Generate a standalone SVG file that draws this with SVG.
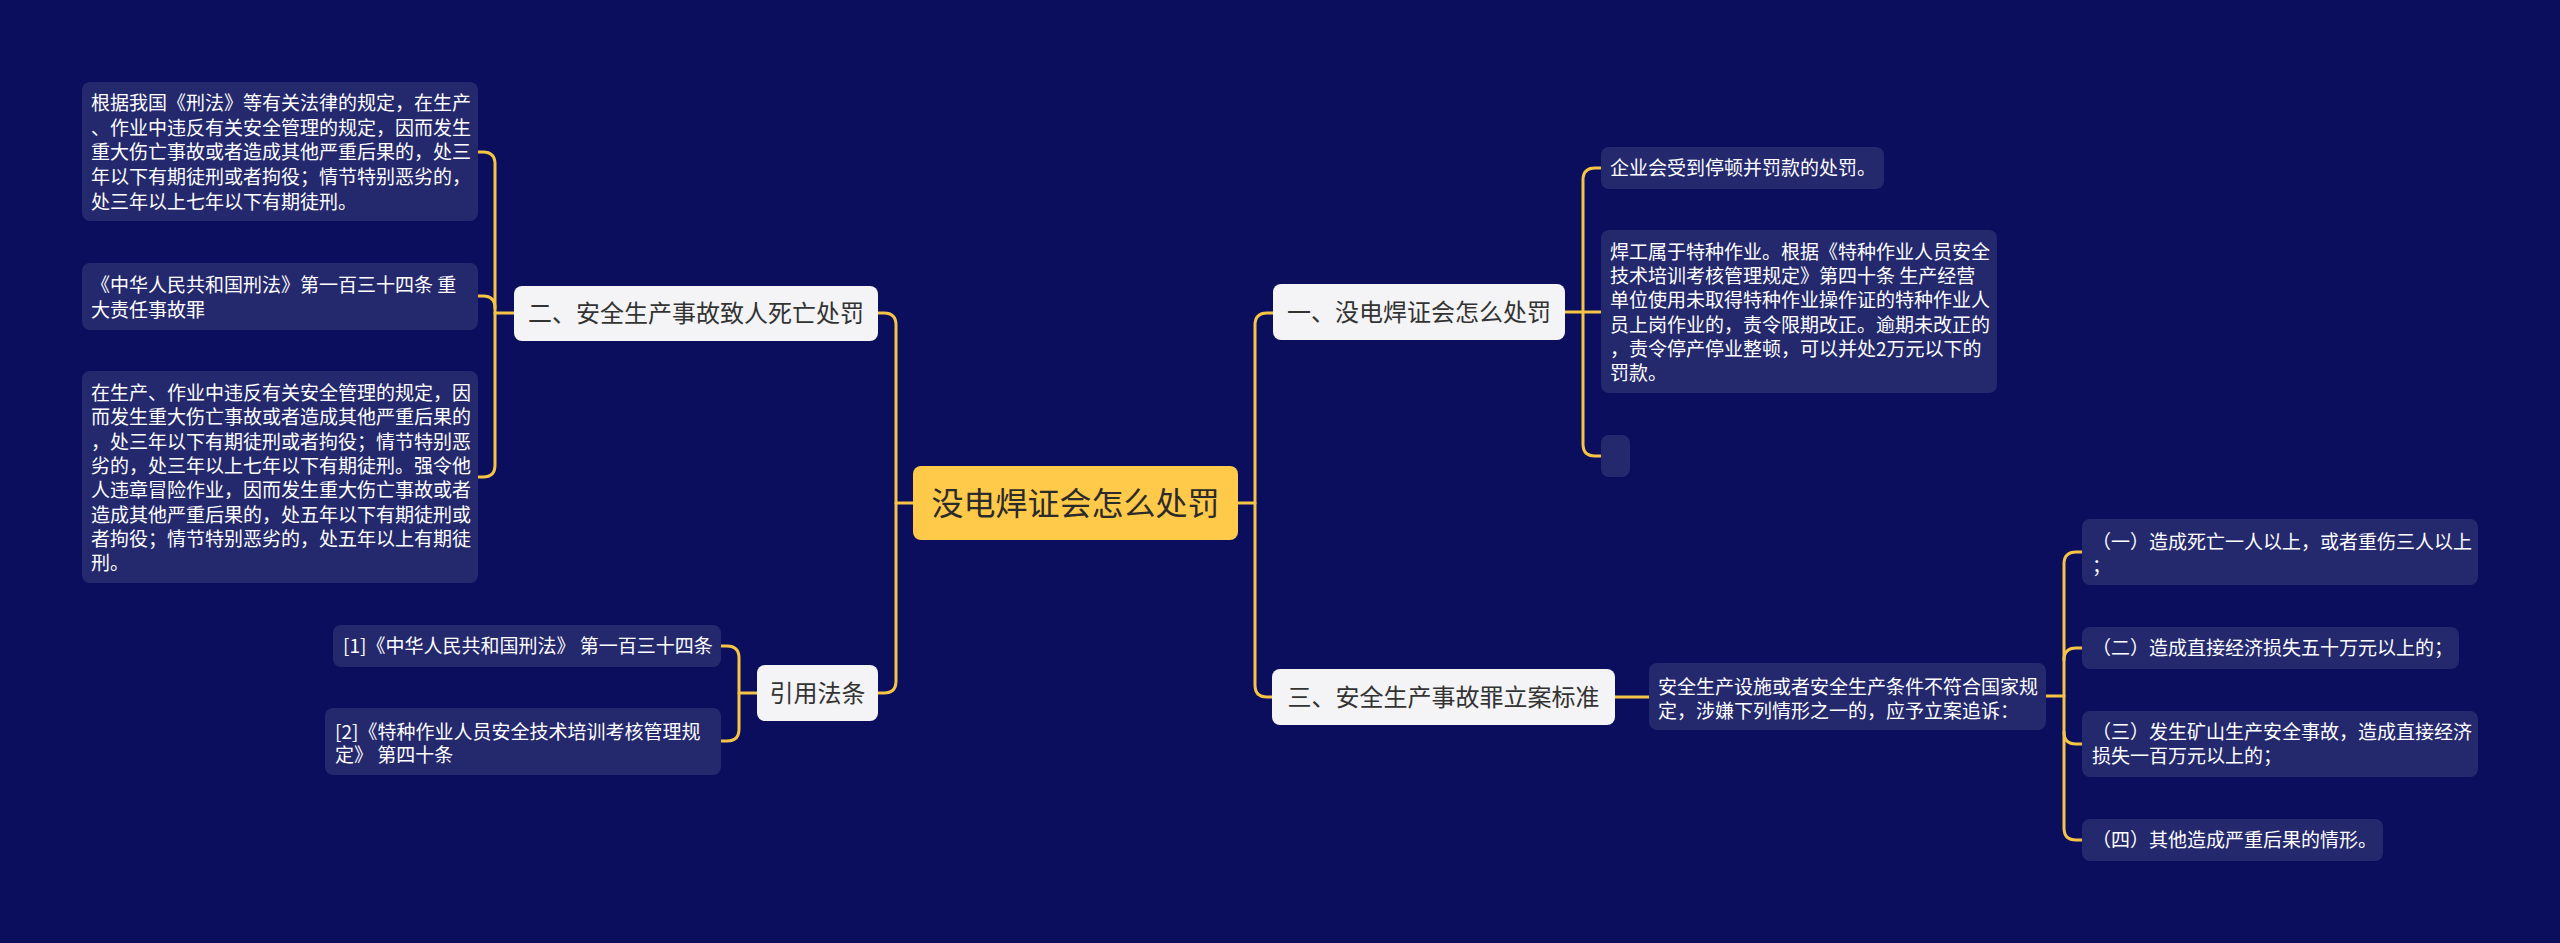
<svg xmlns="http://www.w3.org/2000/svg" width="2560" height="943" viewBox="0 0 2560 943">
<style>
.bg{fill:#0a0e5c}
.leaf{fill:#24296e}
.title{fill:#f4f4f6}
.root{fill:#ffc94a}
.lt{font-family:"Noto Sans CJK SC","Noto Sans",sans-serif;font-size:19px;fill:#ffffff}
.tt{font-family:"Noto Sans CJK SC","Noto Sans",sans-serif;font-size:24px;fill:#333333;text-anchor:middle}
.rt{font-family:"Noto Sans CJK SC","Noto Sans",sans-serif;font-size:32px;fill:#2b2b2b;text-anchor:middle}
.ln{fill:none;stroke:#f5c445;stroke-width:3;stroke-linecap:round}
</style>
<rect class="bg" x="0" y="0" width="2560" height="943"/>
<g id="connectors">
<path class="ln" d="M896,503 H913"/>
<path class="ln" d="M878,313 H884 Q896,313 896,325 V681 Q896,693 884,693 H878"/>
<path class="ln" d="M1238,503 H1255"/>
<path class="ln" d="M1273,313 H1267 Q1255,313 1255,325 V685 Q1255,697 1267,697 H1272"/>
<path class="ln" d="M495,313 H514"/>
<path class="ln" d="M478,152 H483 Q495,152 495,164 V465 Q495,477 483,477 H478"/>
<path class="ln" d="M478,296 H483 Q495,296 495,308"/>
<path class="ln" d="M739,693 H757"/>
<path class="ln" d="M721,646 H727 Q739,646 739,658 V729 Q739,741 727,741 H721"/>
<path class="ln" d="M1565,312 H1601"/>
<path class="ln" d="M1601,168 H1595 Q1583,168 1583,180 V444 Q1583,456 1595,456 H1601"/>
<path class="ln" d="M1615,697 H1649"/>
<path class="ln" d="M2046,696 H2064"/>
<path class="ln" d="M2082,552 H2076 Q2064,552 2064,564 V828 Q2064,840 2076,840 H2082"/>
<path class="ln" d="M2082,648 H2076 Q2064,648 2064,660"/>
<path class="ln" d="M2082,744 H2076 Q2064,744 2064,732"/>
</g>
<g id="root">
<rect class="root" x="913" y="466" width="325" height="74" rx="8"/>
<text class="rt" x="1075.5" y="515">没电焊证会怎么处罚</text>
</g>
<g id="n2">
<rect class="title" x="514" y="286" width="364" height="55" rx="8"/>
<text class="tt" x="696" y="322">二、安全生产事故致人死亡处罚</text>
</g>
<g id="ref">
<rect class="title" x="757" y="665" width="121" height="56" rx="8"/>
<text class="tt" x="817.5" y="702">引用法条</text>
</g>
<g id="n1">
<rect class="title" x="1273" y="284" width="292" height="56" rx="8"/>
<text class="tt" x="1419" y="321">一、没电焊证会怎么处罚</text>
</g>
<g id="n3">
<rect class="title" x="1272" y="669" width="343" height="56" rx="8"/>
<text class="tt" x="1443.5" y="706">三、安全生产事故罪立案标准</text>
</g>
<g id="a">
<rect class="leaf" x="82" y="82" width="396" height="139" rx="8"/>
<text class="lt"><tspan x="91" y="110">根据我国《刑法》等有关法律的规定，在生产</tspan><tspan x="91" y="134.7">、作业中违反有关安全管理的规定，因而发生</tspan><tspan x="91" y="159.4">重大伤亡事故或者造成其他严重后果的，处三</tspan><tspan x="91" y="184.1">年以下有期徒刑或者拘役；情节特别恶劣的，</tspan><tspan x="91" y="208.8">处三年以上七年以下有期徒刑。</tspan></text>
</g>
<g id="b">
<rect class="leaf" x="82" y="263" width="396" height="67" rx="8"/>
<text class="lt"><tspan x="91" y="292">《中华人民共和国刑法》第一百三十四条 重</tspan><tspan x="91" y="317">大责任事故罪</tspan></text>
</g>
<g id="c">
<rect class="leaf" x="82" y="371" width="396" height="212" rx="8"/>
<text class="lt"><tspan x="91" y="400">在生产、作业中违反有关安全管理的规定，因</tspan><tspan x="91" y="424.3">而发生重大伤亡事故或者造成其他严重后果的</tspan><tspan x="91" y="448.6">，处三年以下有期徒刑或者拘役；情节特别恶</tspan><tspan x="91" y="472.9">劣的，处三年以上七年以下有期徒刑。强令他</tspan><tspan x="91" y="497.2">人违章冒险作业，因而发生重大伤亡事故或者</tspan><tspan x="91" y="521.5">造成其他严重后果的，处五年以下有期徒刑或</tspan><tspan x="91" y="545.8">者拘役；情节特别恶劣的，处五年以上有期徒</tspan><tspan x="91" y="570.1">刑。</tspan></text>
</g>
<g id="r1">
<rect class="leaf" x="333" y="625" width="388" height="42" rx="8"/>
<text class="lt" x="343" y="653">[1]《中华人民共和国刑法》 第一百三十四条</text>
</g>
<g id="r2">
<rect class="leaf" x="325" y="708" width="396" height="67" rx="8"/>
<text class="lt"><tspan x="335" y="738.5">[2]《特种作业人员安全技术培训考核管理规</tspan><tspan x="335" y="762">定》 第四十条</tspan></text>
</g>
<g id="d">
<rect class="leaf" x="1601" y="147" width="283" height="42" rx="8"/>
<text class="lt" x="1610" y="175">企业会受到停顿并罚款的处罚。</text>
</g>
<g id="e">
<rect class="leaf" x="1601" y="230" width="396" height="163" rx="8"/>
<text class="lt"><tspan x="1610" y="258.7">焊工属于特种作业。根据《特种作业人员安全</tspan><tspan x="1610" y="283">技术培训考核管理规定》第四十条 生产经营</tspan><tspan x="1610" y="307.3">单位使用未取得特种作业操作证的特种作业人</tspan><tspan x="1610" y="331.6">员上岗作业的，责令限期改正。逾期未改正的</tspan><tspan x="1610" y="355.9">，责令停产停业整顿，可以并处2万元以下的</tspan><tspan x="1610" y="380.2">罚款。</tspan></text>
</g>
<g id="f">
<rect class="leaf" x="1601" y="435" width="29" height="42" rx="8"/>
</g>
<g id="g">
<rect class="leaf" x="1649" y="663" width="397" height="67" rx="8"/>
<text class="lt"><tspan x="1658" y="693.7">安全生产设施或者安全生产条件不符合国家规</tspan><tspan x="1658" y="718">定，涉嫌下列情形之一的，应予立案追诉：</tspan></text>
</g>
<g id="h1">
<rect class="leaf" x="2082" y="519" width="396" height="66" rx="8"/>
<text class="lt"><tspan x="2092" y="548.7">（一）造成死亡一人以上，或者重伤三人以上</tspan><tspan x="2092" y="573">；</tspan></text>
</g>
<g id="h2">
<rect class="leaf" x="2082" y="627" width="377" height="42" rx="8"/>
<text class="lt" x="2092" y="655">（二）造成直接经济损失五十万元以上的；</text>
</g>
<g id="h3">
<rect class="leaf" x="2082" y="711" width="396" height="66" rx="8"/>
<text class="lt"><tspan x="2092" y="738.7">（三）发生矿山生产安全事故，造成直接经济</tspan><tspan x="2092" y="763">损失一百万元以上的；</tspan></text>
</g>
<g id="h4">
<rect class="leaf" x="2082" y="819" width="301" height="42" rx="8"/>
<text class="lt" x="2092" y="847">（四）其他造成严重后果的情形。</text>
</g>
</svg>
